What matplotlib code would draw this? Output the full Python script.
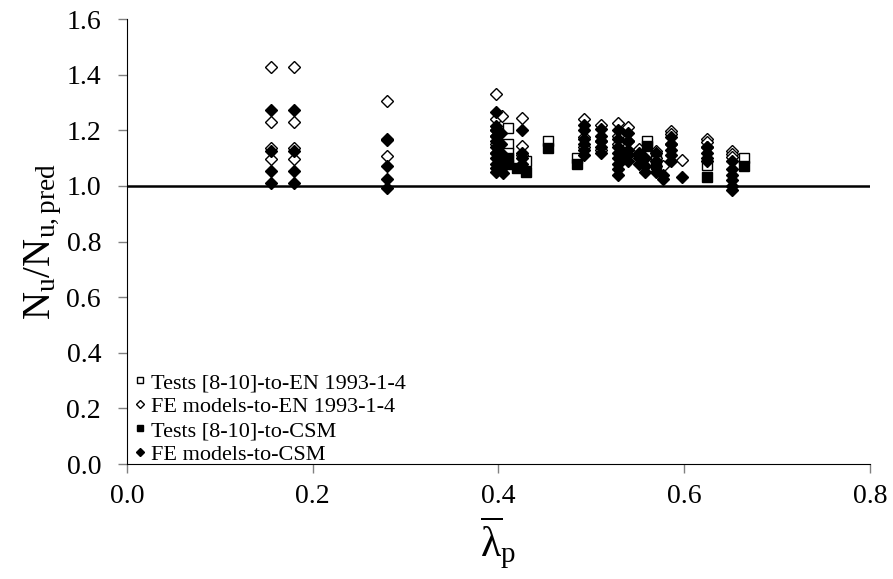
import matplotlib
matplotlib.use("Agg")
import matplotlib.pyplot as plt

plt.rcParams['font.family'] = ['Liberation Serif', 'DejaVu Serif']
plt.rcParams['mathtext.fontset'] = 'custom'
plt.rcParams['mathtext.rm'] = 'Liberation Serif'
plt.rcParams['mathtext.it'] = 'Liberation Serif:italic'

# Tests [8-10] vs EN 1993-1-4 (open squares)
tests_en_x = [0.410, 0.410, 0.410, 0.430, 0.454, 0.485, 0.560, 0.570, 0.625, 0.665]
tests_en_y = [1.210, 1.152, 1.120, 1.090, 1.163, 1.100, 1.163, 1.100, 1.074, 1.100]

# FE models vs EN 1993-1-4 (open diamonds)
fe_en_x = [0.155, 0.155, 0.155, 0.155, 0.180, 0.180, 0.180, 0.180,
           0.280, 0.280,
           0.397, 0.397, 0.397, 0.397, 0.397, 0.397, 0.404,
           0.426, 0.426, 0.426,
           0.492, 0.492, 0.492, 0.511, 0.511, 0.511,
           0.529, 0.529, 0.529, 0.540, 0.540,
           0.552, 0.552, 0.570, 0.570, 0.577,
           0.586, 0.586, 0.586, 0.598,
           0.625, 0.625, 0.625, 0.652, 0.652, 0.652]
fe_en_y = [1.426, 1.229, 1.136, 1.095, 1.426, 1.229, 1.136, 1.095,
           1.304, 1.107,
           1.330, 1.240, 1.200, 1.180, 1.150, 1.120, 1.253,
           1.245, 1.145, 1.110,
           1.241, 1.175, 1.140, 1.220, 1.163, 1.130,
           1.228, 1.180, 1.150, 1.213, 1.160,
           1.134, 1.110, 1.127, 1.100, 1.070,
           1.198, 1.188, 1.150, 1.092,
           1.170, 1.157, 1.140, 1.127, 1.115, 1.103]

# Tests [8-10] vs CSM (filled squares)
tests_csm_x = [0.410, 0.410, 0.420, 0.430, 0.454, 0.485, 0.560, 0.570, 0.625, 0.665]
tests_csm_y = [1.100, 1.080, 1.063, 1.050, 1.135, 1.080, 1.145, 1.080, 1.032, 1.070]

# FE models vs CSM (filled diamonds)
fe_csm_x = [0.155, 0.155, 0.155, 0.155, 0.180, 0.180, 0.180, 0.180,
            0.280, 0.280, 0.280, 0.280, 0.280,
            0.398, 0.397, 0.397, 0.397, 0.397, 0.397, 0.397, 0.397, 0.397, 0.397, 0.397,
            0.403, 0.403, 0.403, 0.403, 0.403, 0.405,
            0.426, 0.426, 0.426, 0.426,
            0.492, 0.492, 0.492, 0.492, 0.492, 0.492,
            0.511, 0.511, 0.511, 0.511, 0.511,
            0.529, 0.529, 0.529, 0.529, 0.529, 0.529, 0.529, 0.529,
            0.540, 0.540, 0.540, 0.540, 0.540,
            0.552, 0.552, 0.552, 0.558, 0.558, 0.558,
            0.570, 0.570, 0.570, 0.570, 0.577, 0.577,
            0.586, 0.586, 0.586, 0.586, 0.586, 0.598,
            0.625, 0.625, 0.625, 0.625,
            0.652, 0.652, 0.652, 0.652, 0.652, 0.652]
fe_csm_y = [1.274, 1.127, 1.052, 1.010, 1.274, 1.127, 1.052, 1.010,
            1.170, 1.165, 1.070, 1.025, 0.993,
            1.265, 1.217, 1.200, 1.180, 1.160, 1.140, 1.120, 1.100, 1.080, 1.065, 1.050,
            1.190, 1.150, 1.120, 1.090, 1.060, 1.045,
            1.200, 1.120, 1.100, 1.080,
            1.220, 1.200, 1.170, 1.150, 1.130, 1.110,
            1.206, 1.180, 1.160, 1.140, 1.120,
            1.200, 1.170, 1.140, 1.120, 1.100, 1.080, 1.060, 1.040,
            1.190, 1.160, 1.130, 1.110, 1.090,
            1.120, 1.100, 1.080, 1.100, 1.070, 1.050,
            1.120, 1.090, 1.070, 1.050, 1.040, 1.024,
            1.175, 1.150, 1.130, 1.110, 1.090, 1.031,
            1.140, 1.120, 1.100, 1.090,
            1.090, 1.060, 1.040, 1.020, 1.000, 0.985]

fig = plt.figure(figsize=(8.93, 5.79), dpi=100)
ax = fig.add_axes([0.142, 0.1986, 0.832, 0.7685])

ax.axhline(1.0, color='black', lw=1.8, zorder=1)

ax.plot(tests_en_x, tests_en_y, 's', ms=6.5, mfc='white', mec='black', mew=1.0,
        label='Tests [8-10]-to-EN 1993-1-4', zorder=2)
ax.plot(fe_en_x, fe_en_y, 'D', ms=6.5, mfc='white', mec='black', mew=1.0,
        label='FE models-to-EN 1993-1-4', zorder=3)
ax.plot(tests_csm_x, tests_csm_y, 's', ms=6.5, mfc='black', mec='black',
        label='Tests [8-10]-to-CSM', zorder=4)
ax.plot(fe_csm_x, fe_csm_y, 'D', ms=6.5, mfc='black', mec='black',
        label='FE models-to-CSM', zorder=5)

ax.set_xlim(0, 0.8)
ax.set_ylim(0, 1.6)
ax.set_xticks([0.0, 0.2, 0.4, 0.6, 0.8])
ax.set_yticks([0.0, 0.2, 0.4, 0.6, 0.8, 1.0, 1.2, 1.4, 1.6])
ax.xaxis.set_major_formatter(matplotlib.ticker.FormatStrFormatter('%.1f'))
ax.yaxis.set_major_formatter(matplotlib.ticker.FormatStrFormatter('%.1f'))
ax.tick_params(direction='out', length=6.5, width=1, color='#808080',
               labelsize=20, labelcolor='black')
ax.tick_params(axis='x', pad=8)
ax.tick_params(axis='y', pad=12)
ax.spines['top'].set_visible(False)
ax.spines['right'].set_visible(False)

ax.set_ylabel(r'$\mathrm{N_u/N_{u,pred}}$', fontsize=28, labelpad=2)
ax.set_xlabel(r'$\overline{\mathrm{\lambda}}_\mathrm{p}$', fontsize=30, labelpad=4)

ax.legend(loc='lower left', bbox_to_anchor=(0.004, -0.012), frameon=False,
          fontsize=16, markerscale=0.65, handlelength=0.5, handletextpad=0.25,
          labelspacing=0.15, borderaxespad=0.0, borderpad=0.2)

fig.savefig('out.png', dpi=100)
